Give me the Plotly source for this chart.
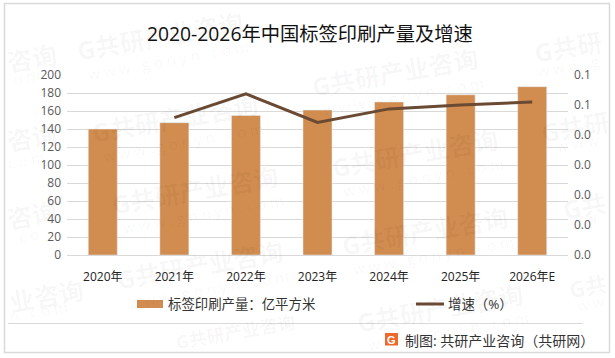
import plotly.graph_objects as go

categories = ["2020年", "2021年", "2022年", "2023年", "2024年", "2025年", "2026年E"]
output_values = [140, 147, 155, 161, 170, 178, 187]
growth_values = [None, 0.0458, 0.0537, 0.0442, 0.0487, 0.0500, 0.0510]
left_ticks = [0, 20, 40, 60, 80, 100, 120, 140, 160, 180, 200]
right_ticks = [0, 0.01, 0.02, 0.03, 0.04, 0.05, 0.06]
right_labels = ["0.0", "0.0", "0.0", "0.0", "0.0", "0.1", "0.1"]
title_text = "2020-2026年中国标签印刷产量及增速"
bar_name = "标签印刷产量：亿平方米"
line_name = "增速（%）"
footer_text = "制图: 共研产业咨询（共研网）"
wm_full = "G共研产业咨询"
wm_url = "w w w . g o n y n . c o m"
# watermark pieces: text, centre x, centre y, size
wm_pieces = [
    (wm_full, 160, 36, 25), (wm_url, 168, 60, 15),
    (wm_full, 395, 72, 25), (wm_url, 403, 96, 15),
    (wm_full, 175, 118, 25), (wm_url, 183, 142, 15),
    (wm_full, 415, 153, 25), (wm_url, 423, 177, 15),
    (wm_full, 195, 190, 25), (wm_url, 203, 214, 15),
    (wm_full, 425, 231, 25), (wm_url, 433, 255, 15),
    (wm_full, 200, 265, 25), (wm_url, 208, 289, 15),
    (wm_full, 440, 308, 25), (wm_url, 448, 331, 15),
    (wm_full, 235, 332, 18),
    ("咨询", 32, 58, 25), ("o m", 26, 77, 15),
    ("咨询", 32, 137, 25), ("c o m", 26, 160, 15),
    ("咨询", 32, 215, 25), (". c o", 25, 236, 15),
    ("业咨询", 46, 296, 25), ("n . c o m", 38, 311, 15),
    ("G共研", 568, 47, 25), ("w w w . g", 568, 66, 15),
    ("G共研", 575, 127, 25), ("w w w", 577, 143, 15),
    ("G共", 584, 206, 25), ("w w", 584, 219, 15),
    ("G共", 588, 286, 22), ("w w", 591, 303, 15),
]

W, H = 615, 358
L, R, T, B = 67, 568, 75, 255
FONT = "Open Sans, Noto Sans CJK SC, sans-serif"
WM_COLOR = "rgba(0,0,0,0.04)"

def px(x):
    return (x - L) / (R - L)

def py(y):
    return (B - y) / (B - T)

def note(text, x, y, size, color, xanchor="center", angle=0, family=FONT):
    return dict(text=text, x=px(x), y=py(y), xref="paper", yref="paper", xanchor=xanchor,
                yanchor="middle", showarrow=False, textangle=angle,
                font=dict(size=size, color=color, family=family))

fig = go.Figure()
fig.add_bar(x=categories, y=output_values, name=bar_name, marker_color="#d18c4f",
            width=0.405, yaxis="y", showlegend=False)
fig.add_scatter(x=categories, y=growth_values, name=line_name, mode="lines",
                line=dict(color="#6b4a33", width=3), yaxis="y2", showlegend=False)

annotations = []
for text, cx, cy, size in wm_pieces:
    label = "<b>%s</b>" % text if size > 16 else text
    annotations.append(note(label, cx, cy, size, WM_COLOR, angle=-10))
annotations += [
    note(title_text, 310, 33.5, 19.3, "#111111"),
    note(bar_name, 166, 304, 13.4, "#333333", "left"),
    note(line_name, 446, 304, 13.4, "#333333", "left"),
    note(footer_text, 403, 340, 14, "#333333", "left"),
    note("<b>G</b>", 391.5, 339.5, 11, "#ffffff", family="Liberation Sans"),
]

shapes = [
    dict(type="rect", xref="paper", yref="paper", x0=px(4.5), x1=px(609.5), y0=py(3.5), y1=py(352.5),
         line=dict(color="#d9d9d9", width=1.5)),
    dict(type="line", xref="paper", yref="paper", x0=px(8), x1=px(583), y0=py(323.5), y1=py(323.5),
         line=dict(color="#d9d9d9", width=1)),
    dict(type="rect", xref="paper", yref="paper", x0=px(385), x1=px(398), y0=py(333), y1=py(345.5),
         fillcolor="#ee6a2c", line=dict(width=0)),
    dict(type="rect", xref="paper", yref="paper", x0=px(137), x1=px(163), y0=py(300), y1=py(308),
         fillcolor="#d18c4f", line=dict(width=0)),
    dict(type="line", xref="paper", yref="paper", x0=px(416), x1=px(444), y0=py(304), y1=py(304),
         line=dict(color="#6b4a33", width=3)),
]

fig.update_layout(
    width=W, height=H, autosize=False,
    margin=dict(l=L, r=W - R, t=T, b=H - B),
    paper_bgcolor="#ffffff", plot_bgcolor="rgba(0,0,0,0)",
    font=dict(family=FONT, size=12, color="#595959"),
    showlegend=False,
    annotations=annotations, shapes=shapes,
    xaxis=dict(type="category", categoryorder="array", categoryarray=categories,
               showgrid=False, showline=True, linecolor="#d9d9d9", ticks="", ticklabelstandoff=11,
               tickfont=dict(size=12, color="#222222", family=FONT)),
    yaxis=dict(range=[0, 200], tickvals=left_ticks, showgrid=True, gridcolor="#d9d9d9",
               gridwidth=1, zeroline=False, ticks="", ticklabelstandoff=5,
               tickfont=dict(size=12, color="#595959", family=FONT)),
    yaxis2=dict(range=[0, 0.06], overlaying="y", side="right", tickvals=right_ticks,
                ticktext=right_labels, showgrid=False, zeroline=False, ticks="", ticklabelstandoff=5,
                tickfont=dict(size=12, color="#595959", family=FONT)),
)
fig.write_html("out.html", config={"displayModeBar": False},
               post_script="document.body.style.margin='0';")
